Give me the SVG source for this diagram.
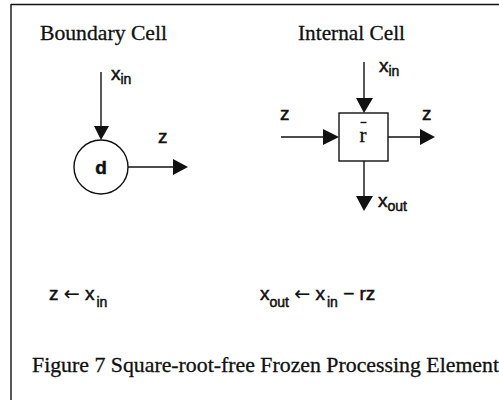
<svg xmlns="http://www.w3.org/2000/svg" width="499" height="400" viewBox="0 0 499 400">
<style>
.t{font-family:"Liberation Serif","Times New Roman",serif;font-size:21px;fill:#111;stroke:#111;stroke-width:0.3}
.m{font-family:"Liberation Sans",Arial,sans-serif;font-size:19px;fill:#111;stroke:#111;stroke-width:0.5}
.s{font-size:14px}
.a{font-family:"DejaVu Sans",sans-serif;font-size:19px;stroke-width:0.2}
.ln{stroke:#111;stroke-width:1.4;fill:none}
.hd{fill:#111}
</style>
<rect width="499" height="400" fill="#fff"/>
<g id="frame">
<path class="ln" d="M11 4.5H499M11 4V400" stroke-width="1.6"/>
</g>
<g id="boundary-cell">
<text class="t" x="40" y="40" textLength="127" lengthAdjust="spacingAndGlyphs">Boundary Cell</text>
<circle class="ln" cx="101" cy="167" r="27"/>
<text class="m" x="101" y="174" text-anchor="middle" font-size="20" font-weight="bold">d</text>
</g>
<g id="internal-cell">
<text class="t" x="298" y="40" textLength="107" lengthAdjust="spacingAndGlyphs">Internal Cell</text>
<rect class="ln" x="339" y="113" width="49" height="48"/>
<text class="t" x="363" y="142" text-anchor="middle">r</text>
<path class="ln" d="M360.5 122.5H366.5"/>
</g>
<g id="connectors">
<path class="ln" d="M101 72V128"/>
<polygon class="hd" points="94,126 109,126 101,140"/>
<path class="ln" d="M128 167H175"/>
<polygon class="hd" points="173,159 173,175 188,167"/>
<path class="ln" d="M364 62V100"/>
<polygon class="hd" points="356,98 373,98 364,113"/>
<path class="ln" d="M281 137H325"/>
<polygon class="hd" points="323,129 323,145 339,137"/>
<path class="ln" d="M388 137H422"/>
<polygon class="hd" points="420,129 420,145 435,137"/>
<path class="ln" d="M364 161V198"/>
<polygon class="hd" points="356,196 373,196 364,211"/>
</g>
<g id="labels">
<text class="m" x="111" y="80">x<tspan class="s" dy="4">in</tspan></text>
<text class="m" x="158" y="143">z</text>
<text class="m" x="379" y="72">x<tspan class="s" dy="4">in</tspan></text>
<text class="m" x="280" y="120">z</text>
<text class="m" x="422" y="120">z</text>
<text class="m" x="378" y="207">x<tspan class="s" dy="4">out</tspan></text>
</g>
<g id="equations">
<text class="m" x="49" y="300">z <tspan class="a">←</tspan> x<tspan class="s" dx="2" dy="7">in</tspan></text>
<text class="m" x="260" y="300">x<tspan class="s" dy="7">out</tspan><tspan dy="-7"> </tspan><tspan class="a">←</tspan><tspan> x</tspan><tspan class="s" dx="2" dy="7">in</tspan><tspan dy="-7"> − rz</tspan></text>
</g>
<text class="t" x="32" y="372" textLength="467" lengthAdjust="spacingAndGlyphs">Figure 7 Square-root-free Frozen Processing Element</text>
</svg>
